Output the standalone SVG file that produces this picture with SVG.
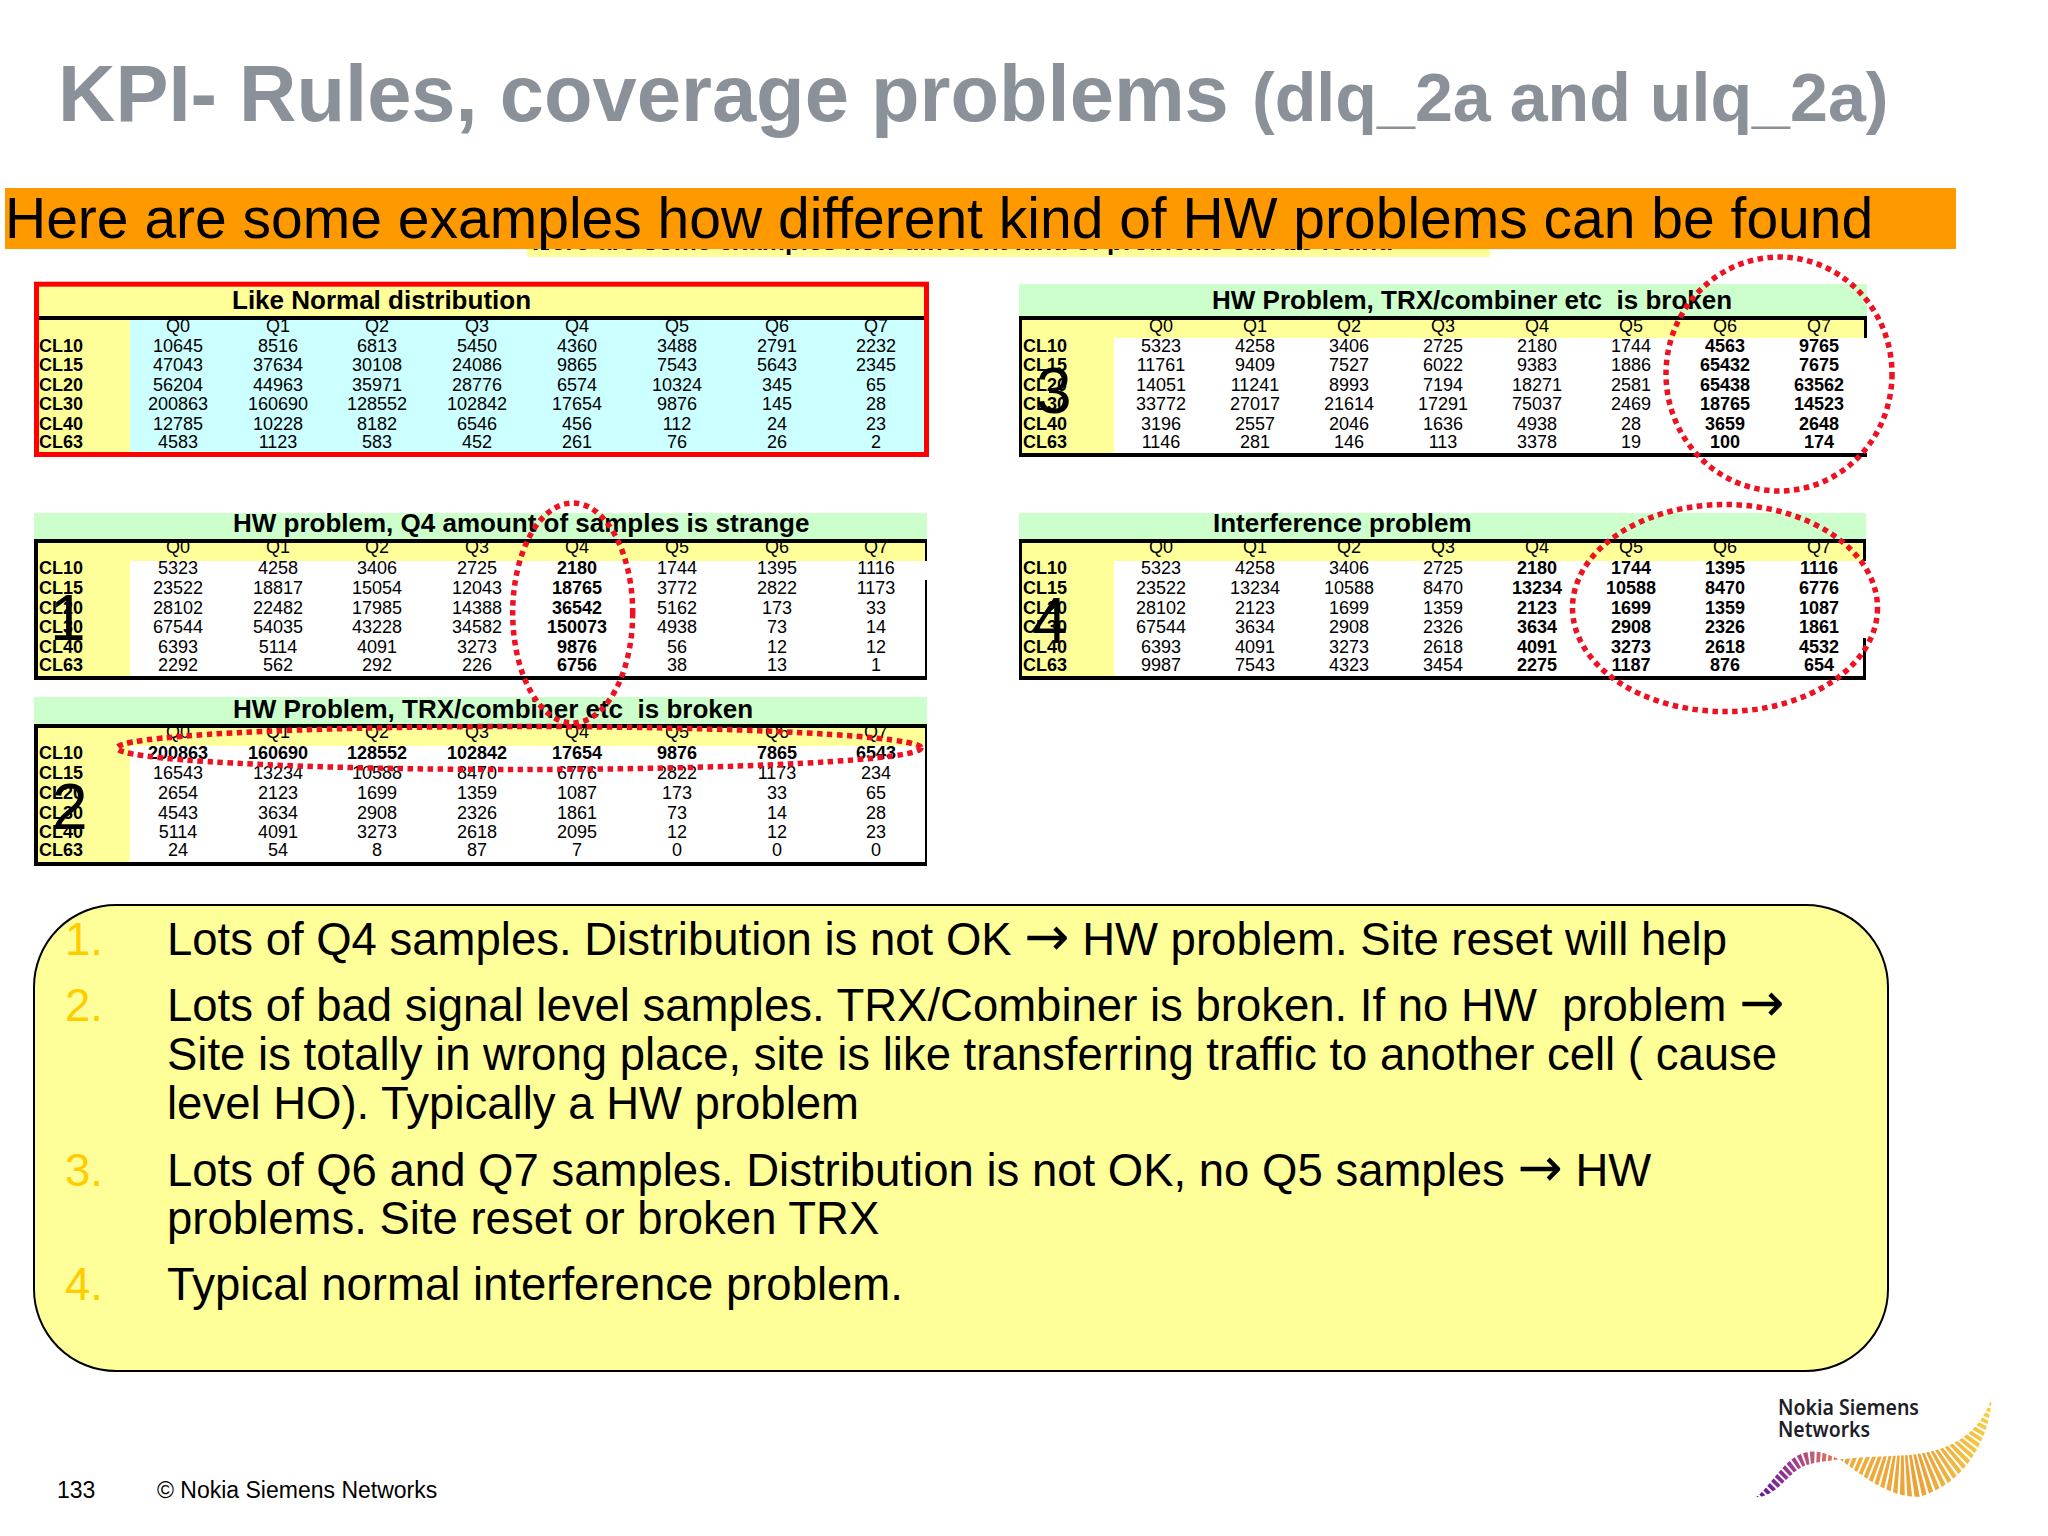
<svg xmlns="http://www.w3.org/2000/svg" width="2048" height="1536" viewBox="0 0 2048 1536">
<style>
text{font-family:"Liberation Sans",Arial,sans-serif;fill:#000;white-space:pre}
.t{font-size:18px;text-anchor:middle}
.b{font-weight:700}
.cl{font-size:18px;font-weight:700}
.tt{font-size:26px;font-weight:700}
.body{font-size:45.5px}
.ar{font-family:"DejaVu Sans",sans-serif;font-size:54px}
.n{font-size:45.5px;fill:#FFCC00}
.big{font-size:64px}
.logo{font-family:"Noto Sans","Open Sans",sans-serif;font-size:22px;font-weight:600;fill:#1E1E28}
.y{fill:#FFFF99}.g{fill:#CCFFCC}.c{fill:#CCFFFF}.k{fill:#000}
.e{fill:none;stroke:#EE1122;stroke-width:5.5;stroke-dasharray:5.5 4.5}
</style>
<defs>
<linearGradient id="wave" gradientUnits="userSpaceOnUse" x1="318" y1="0" x2="1025" y2="0">
<stop offset="0" stop-color="#5a189a"/><stop offset=".16" stop-color="#a03c90"/><stop offset=".33" stop-color="#e07a58"/><stop offset=".4" stop-color="#f2ad3a"/><stop offset=".7" stop-color="#eaa238"/><stop offset="1" stop-color="#f7cf45"/>
</linearGradient>
<clipPath id="waveClip"><path d="M318,442 C370,400 410,310 480,305 C520,303 545,320 570,328 C640,320 700,320 780,315 C880,305 980,270 1025,145 C1020,260 950,400 810,440 C720,445 640,380 570,328 C530,335 490,335 455,352 C410,375 380,440 318,442 Z"/></clipPath>
</defs>
<rect width="2048" height="1536" fill="#fff"/>
<g id="title">
<text x="58" y="121" font-size="79.5" font-weight="700" style="fill:#8A9199">KPI- Rules, coverage problems</text>
<text x="1252" y="121" font-size="68.2" font-weight="700" style="fill:#8A9199">(dlq_2a and ulq_2a)</text>
</g>
<g id="subtitle">
<rect class="y" x="527" y="240" width="963" height="17"/>
<text x="532" y="250" font-size="26" font-weight="700">Here are some examples how different kind of problems can be found</text>
<rect x="5" y="188" width="1951" height="61" fill="#FF9900"/>
<text x="5" y="238" font-size="57">Here are some examples how different kind of HW problems can be found</text>
</g>
<g id="table-normal">
<rect class="y" x="37" y="284" width="890" height="36"/>
<rect class="y" x="37" y="320" width="93" height="134"/>
<rect class="c" x="130" y="320" width="796" height="134"/>
<rect class="k" x="39" y="316" width="886" height="4"/>
<rect x="36.5" y="284.2" width="890" height="170.3" fill="none" stroke="#FF0000" stroke-width="5"/>
<text class="tt" x="232" y="309">Like Normal distribution</text>
<text class="t" y="332"><tspan x="178">Q0</tspan><tspan x="278">Q1</tspan><tspan x="377">Q2</tspan><tspan x="477">Q3</tspan><tspan x="577">Q4</tspan><tspan x="677">Q5</tspan><tspan x="777">Q6</tspan><tspan x="876">Q7</tspan></text>
<text class="cl" x="39" y="352">CL10</text><text class="cl" x="39" y="371">CL15</text><text class="cl" x="39" y="391">CL20</text><text class="cl" x="39" y="410">CL30</text><text class="cl" x="39" y="430">CL40</text><text class="cl" x="39" y="448">CL63</text>
<text class="t" y="352"><tspan x="178">10645</tspan><tspan x="278">8516</tspan><tspan x="377">6813</tspan><tspan x="477">5450</tspan><tspan x="577">4360</tspan><tspan x="677">3488</tspan><tspan x="777">2791</tspan><tspan x="876">2232</tspan></text>
<text class="t" y="371"><tspan x="178">47043</tspan><tspan x="278">37634</tspan><tspan x="377">30108</tspan><tspan x="477">24086</tspan><tspan x="577">9865</tspan><tspan x="677">7543</tspan><tspan x="777">5643</tspan><tspan x="876">2345</tspan></text>
<text class="t" y="391"><tspan x="178">56204</tspan><tspan x="278">44963</tspan><tspan x="377">35971</tspan><tspan x="477">28776</tspan><tspan x="577">6574</tspan><tspan x="677">10324</tspan><tspan x="777">345</tspan><tspan x="876">65</tspan></text>
<text class="t" y="410"><tspan x="178">200863</tspan><tspan x="278">160690</tspan><tspan x="377">128552</tspan><tspan x="477">102842</tspan><tspan x="577">17654</tspan><tspan x="677">9876</tspan><tspan x="777">145</tspan><tspan x="876">28</tspan></text>
<text class="t" y="430"><tspan x="178">12785</tspan><tspan x="278">10228</tspan><tspan x="377">8182</tspan><tspan x="477">6546</tspan><tspan x="577">456</tspan><tspan x="677">112</tspan><tspan x="777">24</tspan><tspan x="876">23</tspan></text>
<text class="t" y="448"><tspan x="178">4583</tspan><tspan x="278">1123</tspan><tspan x="377">583</tspan><tspan x="477">452</tspan><tspan x="577">261</tspan><tspan x="677">76</tspan><tspan x="777">26</tspan><tspan x="876">2</tspan></text>
</g>
<g id="table-q67">
<rect class="g" x="1019" y="284" width="848" height="32"/>
<rect class="y" x="1022" y="320" width="843" height="18"/>
<rect class="y" x="1022" y="338" width="92" height="115"/>
<rect class="k" x="1019" y="316" width="848" height="4"/><rect class="k" x="1019" y="316" width="3" height="141"/><rect class="k" x="1019" y="453" width="848" height="4"/><rect class="k" x="1864" y="316" width="3" height="22"/>
<text class="tt" x="1212" y="309">HW Problem, TRX/combiner etc  is broken</text>
<text class="t" y="332"><tspan x="1161">Q0</tspan><tspan x="1255">Q1</tspan><tspan x="1349">Q2</tspan><tspan x="1443">Q3</tspan><tspan x="1537">Q4</tspan><tspan x="1631">Q5</tspan><tspan x="1725">Q6</tspan><tspan x="1819">Q7</tspan></text>
<text class="cl" x="1023" y="352">CL10</text><text class="cl" x="1023" y="371">CL15</text><text class="cl" x="1023" y="391">CL20</text><text class="cl" x="1023" y="410">CL30</text><text class="cl" x="1023" y="430">CL40</text><text class="cl" x="1023" y="448">CL63</text>
<text class="t" y="352"><tspan x="1161">5323</tspan><tspan x="1255">4258</tspan><tspan x="1349">3406</tspan><tspan x="1443">2725</tspan><tspan x="1537">2180</tspan><tspan x="1631">1744</tspan><tspan class="b" x="1725">4563</tspan><tspan class="b" x="1819">9765</tspan></text>
<text class="t" y="371"><tspan x="1161">11761</tspan><tspan x="1255">9409</tspan><tspan x="1349">7527</tspan><tspan x="1443">6022</tspan><tspan x="1537">9383</tspan><tspan x="1631">1886</tspan><tspan class="b" x="1725">65432</tspan><tspan class="b" x="1819">7675</tspan></text>
<text class="t" y="391"><tspan x="1161">14051</tspan><tspan x="1255">11241</tspan><tspan x="1349">8993</tspan><tspan x="1443">7194</tspan><tspan x="1537">18271</tspan><tspan x="1631">2581</tspan><tspan class="b" x="1725">65438</tspan><tspan class="b" x="1819">63562</tspan></text>
<text class="t" y="410"><tspan x="1161">33772</tspan><tspan x="1255">27017</tspan><tspan x="1349">21614</tspan><tspan x="1443">17291</tspan><tspan x="1537">75037</tspan><tspan x="1631">2469</tspan><tspan class="b" x="1725">18765</tspan><tspan class="b" x="1819">14523</tspan></text>
<text class="t" y="430"><tspan x="1161">3196</tspan><tspan x="1255">2557</tspan><tspan x="1349">2046</tspan><tspan x="1443">1636</tspan><tspan x="1537">4938</tspan><tspan x="1631">28</tspan><tspan class="b" x="1725">3659</tspan><tspan class="b" x="1819">2648</tspan></text>
<text class="t" y="448"><tspan x="1161">1146</tspan><tspan x="1255">281</tspan><tspan x="1349">146</tspan><tspan x="1443">113</tspan><tspan x="1537">3378</tspan><tspan x="1631">19</tspan><tspan class="b" x="1725">100</tspan><tspan class="b" x="1819">174</tspan></text>
</g>
<g id="table-q4">
<rect class="g" x="34" y="513" width="893" height="27"/>
<rect class="y" x="38" y="543" width="889" height="18"/>
<rect class="y" x="38" y="561" width="92" height="115"/>
<rect class="k" x="34" y="539" width="893" height="4"/><rect class="k" x="34" y="539" width="4" height="141"/><rect class="k" x="34" y="676" width="893" height="4"/><rect class="k" x="925" y="539" width="2" height="22"/><rect class="k" x="925" y="580" width="2" height="100"/>
<text class="tt" x="233" y="532">HW problem, Q4 amount of samples is strange</text>
<text class="t" y="553"><tspan x="178">Q0</tspan><tspan x="278">Q1</tspan><tspan x="377">Q2</tspan><tspan x="477">Q3</tspan><tspan x="577">Q4</tspan><tspan x="677">Q5</tspan><tspan x="777">Q6</tspan><tspan x="876">Q7</tspan></text>
<text class="cl" x="39" y="574">CL10</text><text class="cl" x="39" y="594">CL15</text><text class="cl" x="39" y="614">CL20</text><text class="cl" x="39" y="633">CL30</text><text class="cl" x="39" y="653">CL40</text><text class="cl" x="39" y="671">CL63</text>
<text class="t" y="574"><tspan x="178">5323</tspan><tspan x="278">4258</tspan><tspan x="377">3406</tspan><tspan x="477">2725</tspan><tspan class="b" x="577">2180</tspan><tspan x="677">1744</tspan><tspan x="777">1395</tspan><tspan x="876">1116</tspan></text>
<text class="t" y="594"><tspan x="178">23522</tspan><tspan x="278">18817</tspan><tspan x="377">15054</tspan><tspan x="477">12043</tspan><tspan class="b" x="577">18765</tspan><tspan x="677">3772</tspan><tspan x="777">2822</tspan><tspan x="876">1173</tspan></text>
<text class="t" y="614"><tspan x="178">28102</tspan><tspan x="278">22482</tspan><tspan x="377">17985</tspan><tspan x="477">14388</tspan><tspan class="b" x="577">36542</tspan><tspan x="677">5162</tspan><tspan x="777">173</tspan><tspan x="876">33</tspan></text>
<text class="t" y="633"><tspan x="178">67544</tspan><tspan x="278">54035</tspan><tspan x="377">43228</tspan><tspan x="477">34582</tspan><tspan class="b" x="577">150073</tspan><tspan x="677">4938</tspan><tspan x="777">73</tspan><tspan x="876">14</tspan></text>
<text class="t" y="653"><tspan x="178">6393</tspan><tspan x="278">5114</tspan><tspan x="377">4091</tspan><tspan x="477">3273</tspan><tspan class="b" x="577">9876</tspan><tspan x="677">56</tspan><tspan x="777">12</tspan><tspan x="876">12</tspan></text>
<text class="t" y="671"><tspan x="178">2292</tspan><tspan x="278">562</tspan><tspan x="377">292</tspan><tspan x="477">226</tspan><tspan class="b" x="577">6756</tspan><tspan x="677">38</tspan><tspan x="777">13</tspan><tspan x="876">1</tspan></text>
</g>
<g id="table-broken">
<rect class="g" x="34" y="697" width="893" height="28"/>
<rect class="y" x="38" y="728" width="889" height="18"/>
<rect class="y" x="38" y="746" width="92" height="116"/>
<rect class="k" x="34" y="724" width="893" height="4"/><rect class="k" x="34" y="724" width="4" height="142"/><rect class="k" x="34" y="862" width="893" height="4"/><rect class="k" x="925" y="724" width="2" height="142"/>
<text class="tt" x="233" y="718">HW Problem, TRX/combiner etc  is broken</text>
<text class="t" y="738"><tspan x="178">Q0</tspan><tspan x="278">Q1</tspan><tspan x="377">Q2</tspan><tspan x="477">Q3</tspan><tspan x="577">Q4</tspan><tspan x="677">Q5</tspan><tspan x="777">Q6</tspan><tspan x="876">Q7</tspan></text>
<text class="cl" x="39" y="759">CL10</text><text class="cl" x="39" y="779">CL15</text><text class="cl" x="39" y="799">CL20</text><text class="cl" x="39" y="819">CL30</text><text class="cl" x="39" y="838">CL40</text><text class="cl" x="39" y="856">CL63</text>
<text class="t b" y="759"><tspan x="178">200863</tspan><tspan x="278">160690</tspan><tspan x="377">128552</tspan><tspan x="477">102842</tspan><tspan x="577">17654</tspan><tspan x="677">9876</tspan><tspan x="777">7865</tspan><tspan x="876">6543</tspan></text>
<text class="t" y="779"><tspan x="178">16543</tspan><tspan x="278">13234</tspan><tspan x="377">10588</tspan><tspan x="477">8470</tspan><tspan x="577">6776</tspan><tspan x="677">2822</tspan><tspan x="777">1173</tspan><tspan x="876">234</tspan></text>
<text class="t" y="799"><tspan x="178">2654</tspan><tspan x="278">2123</tspan><tspan x="377">1699</tspan><tspan x="477">1359</tspan><tspan x="577">1087</tspan><tspan x="677">173</tspan><tspan x="777">33</tspan><tspan x="876">65</tspan></text>
<text class="t" y="819"><tspan x="178">4543</tspan><tspan x="278">3634</tspan><tspan x="377">2908</tspan><tspan x="477">2326</tspan><tspan x="577">1861</tspan><tspan x="677">73</tspan><tspan x="777">14</tspan><tspan x="876">28</tspan></text>
<text class="t" y="838"><tspan x="178">5114</tspan><tspan x="278">4091</tspan><tspan x="377">3273</tspan><tspan x="477">2618</tspan><tspan x="577">2095</tspan><tspan x="677">12</tspan><tspan x="777">12</tspan><tspan x="876">23</tspan></text>
<text class="t" y="856"><tspan x="178">24</tspan><tspan x="278">54</tspan><tspan x="377">8</tspan><tspan x="477">87</tspan><tspan x="577">7</tspan><tspan x="677">0</tspan><tspan x="777">0</tspan><tspan x="876">0</tspan></text>
</g>
<g id="table-interference">
<rect class="g" x="1019" y="513" width="847" height="27"/>
<rect class="y" x="1022" y="543" width="842" height="18"/>
<rect class="y" x="1022" y="561" width="92" height="115"/>
<rect class="k" x="1019" y="539" width="847" height="4"/><rect class="k" x="1019" y="539" width="3" height="141"/><rect class="k" x="1019" y="676" width="847" height="4"/><rect class="k" x="1863" y="539" width="3" height="22"/><rect class="k" x="1863" y="638" width="3" height="42"/>
<text class="tt" x="1213" y="532">Interference problem</text>
<text class="t" y="553"><tspan x="1161">Q0</tspan><tspan x="1255">Q1</tspan><tspan x="1349">Q2</tspan><tspan x="1443">Q3</tspan><tspan x="1537">Q4</tspan><tspan x="1631">Q5</tspan><tspan x="1725">Q6</tspan><tspan x="1819">Q7</tspan></text>
<text class="cl" x="1023" y="574">CL10</text><text class="cl" x="1023" y="594">CL15</text><text class="cl" x="1023" y="614">CL20</text><text class="cl" x="1023" y="633">CL30</text><text class="cl" x="1023" y="653">CL40</text><text class="cl" x="1023" y="671">CL63</text>
<text class="t" y="574"><tspan x="1161">5323</tspan><tspan x="1255">4258</tspan><tspan x="1349">3406</tspan><tspan x="1443">2725</tspan><tspan class="b" x="1537">2180</tspan><tspan class="b" x="1631">1744</tspan><tspan class="b" x="1725">1395</tspan><tspan class="b" x="1819">1116</tspan></text>
<text class="t" y="594"><tspan x="1161">23522</tspan><tspan x="1255">13234</tspan><tspan x="1349">10588</tspan><tspan x="1443">8470</tspan><tspan class="b" x="1537">13234</tspan><tspan class="b" x="1631">10588</tspan><tspan class="b" x="1725">8470</tspan><tspan class="b" x="1819">6776</tspan></text>
<text class="t" y="614"><tspan x="1161">28102</tspan><tspan x="1255">2123</tspan><tspan x="1349">1699</tspan><tspan x="1443">1359</tspan><tspan class="b" x="1537">2123</tspan><tspan class="b" x="1631">1699</tspan><tspan class="b" x="1725">1359</tspan><tspan class="b" x="1819">1087</tspan></text>
<text class="t" y="633"><tspan x="1161">67544</tspan><tspan x="1255">3634</tspan><tspan x="1349">2908</tspan><tspan x="1443">2326</tspan><tspan class="b" x="1537">3634</tspan><tspan class="b" x="1631">2908</tspan><tspan class="b" x="1725">2326</tspan><tspan class="b" x="1819">1861</tspan></text>
<text class="t" y="653"><tspan x="1161">6393</tspan><tspan x="1255">4091</tspan><tspan x="1349">3273</tspan><tspan x="1443">2618</tspan><tspan class="b" x="1537">4091</tspan><tspan class="b" x="1631">3273</tspan><tspan class="b" x="1725">2618</tspan><tspan class="b" x="1819">4532</tspan></text>
<text class="t" y="671"><tspan x="1161">9987</tspan><tspan x="1255">7543</tspan><tspan x="1349">4323</tspan><tspan x="1443">3454</tspan><tspan class="b" x="1537">2275</tspan><tspan class="b" x="1631">1187</tspan><tspan class="b" x="1725">876</tspan><tspan class="b" x="1819">654</tspan></text>
</g>
<g id="numbers">
<text class="big" x="50" y="640">1</text>
<text class="big" x="52" y="829">2</text>
<text class="big" x="1036" y="413">3</text>
<text class="big" x="1032" y="643">4</text>
</g>
<g id="highlights">
<ellipse class="e" cx="1779" cy="374" rx="113" ry="117"/>
<ellipse class="e" cx="572.7" cy="613" rx="60" ry="110"/>
<ellipse class="e" cx="519" cy="748" rx="402" ry="21.5"/>
<ellipse class="e" cx="1725" cy="608" rx="152.5" ry="103.5"/>
</g>
<g id="notes">
<rect x="34" y="905" width="1854" height="466" rx="82" ry="82" class="y" stroke="#000" stroke-width="2"/>
<text class="n" x="65" y="955">1.</text>
<text class="body" x="167" y="955">Lots of Q4 samples. Distribution is not OK <tspan class="ar">→</tspan> HW problem. Site reset will help</text>
<text class="n" x="65" y="1021">2.</text>
<text class="body" x="167" y="1021">Lots of bad signal level samples. TRX/Combiner is broken. If no HW  problem <tspan class="ar">→</tspan></text>
<text class="body" x="167" y="1070">Site is totally in wrong place, site is like transferring traffic to another cell ( cause</text>
<text class="body" x="167" y="1119">level HO). Typically a HW problem</text>
<text class="n" x="65" y="1186">3.</text>
<text class="body" x="167" y="1186">Lots of Q6 and Q7 samples. Distribution is not OK, no Q5 samples <tspan class="ar">→</tspan> HW</text>
<text class="body" x="167" y="1234">problems. Site reset or broken TRX</text>
<text class="n" x="65" y="1300">4.</text>
<text class="body" x="167" y="1300">Typical normal interference problem.</text>
</g>
<g id="footer">
<text x="57" y="1498" font-size="23">133</text>
<text x="157" y="1498" font-size="23">© Nokia Siemens Networks</text>
</g>
<g id="logo">
<text class="logo" x="1778" y="1415" textLength="141" lengthAdjust="spacingAndGlyphs">Nokia Siemens</text>
<text class="logo" x="1778" y="1437" textLength="92" lengthAdjust="spacingAndGlyphs">Networks</text>
<g transform="translate(1650,1350) scale(.33333)">
<g clip-path="url(#waveClip)">
<path d="M290,470 C380,410 420,320 490,322 C530,323 550,328 570,328 C640,345 700,400 800,380 C900,360 990,280 1040,100" fill="none" stroke="url(#wave)" stroke-width="170" stroke-dasharray="11.5 6"/>
</g>
</g>
</g>
</svg>
